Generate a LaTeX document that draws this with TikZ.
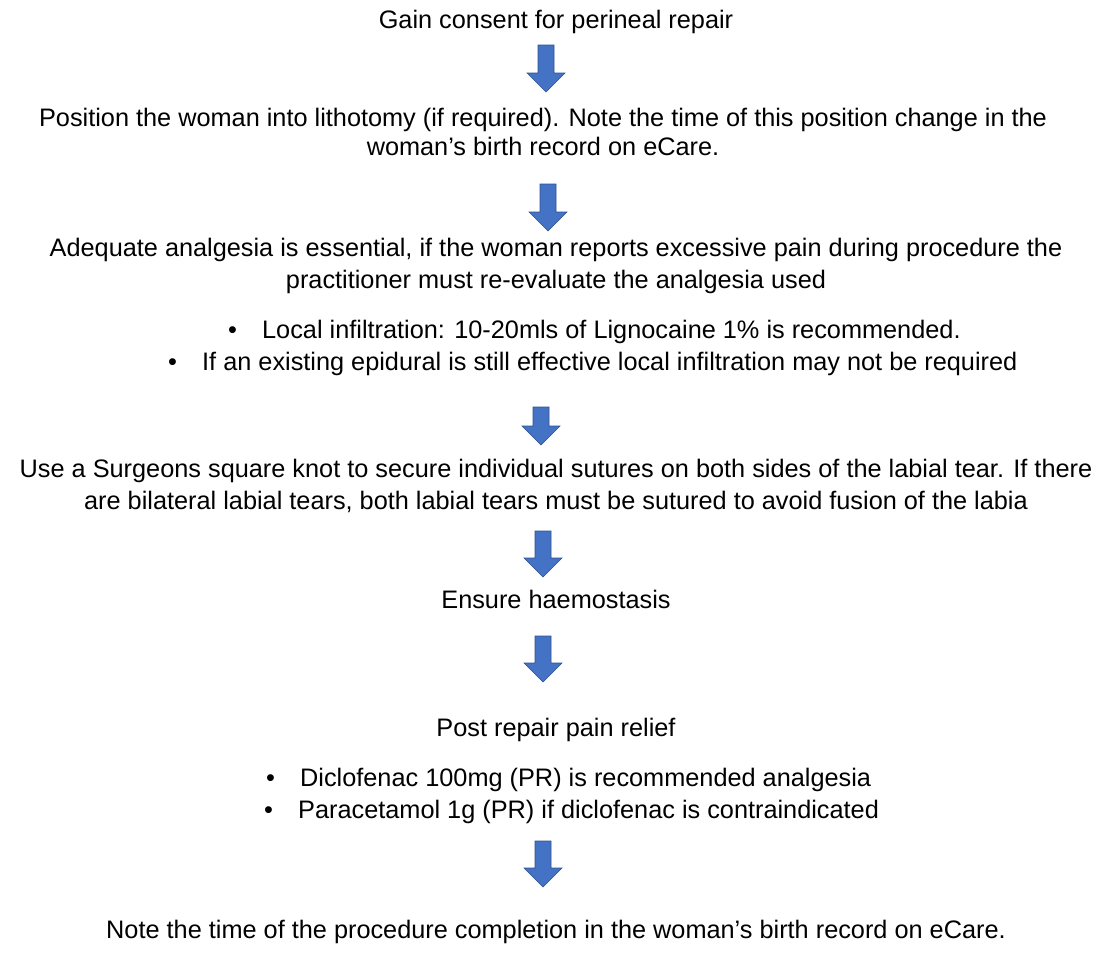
\documentclass[tikz,border=0pt]{standalone}
\usepackage{fontspec}
\setmainfont{Liberation Sans}
\definecolor{arrowblue}{HTML}{4472C4}
\definecolor{arrowedge}{HTML}{2F528F}
\tikzset{
	flowtext/.style={inner sep=0pt, anchor=base, align=center, font=\fontsize{25.3}{32}\selectfont},
	itemtext/.style={inner sep=0pt, anchor=base west, font=\fontsize{25.3}{32}\selectfont},
	pics/downarrow/.style={code={
		\filldraw[fill=arrowblue, draw=arrowedge, line width=0.6pt]
			(-8,0) -- (8,0) -- (8,#1) -- (19,#1) -- (0,#1+19) -- (-19,#1) -- (-8,#1) -- cycle;
	}},
}
\newcommand{\bulletmark}{\makebox[34pt][l]{\textbullet}}

\begin{document}
\begin{tikzpicture}[x=1pt,y=-1pt]
	\useasboundingbox (0,0) rectangle (1107,954);

	\node[flowtext] (consent) at (556,28) {Gain consent for perineal repair};
	\pic (arrowA) at (546,45) {downarrow=28};

	% base of a two-line node sits on its last line
	\node[flowtext, font=\fontsize{25.3}{29}\selectfont] (position) at (543,155)
		{Position the woman into lithotomy (if required). Note the time of this position change in the\\woman’s birth record on eCare.};
	\pic (arrowB) at (548,184) {downarrow=28};

	\node[flowtext] (analgesia) at (556,288)
		{Adequate analgesia is essential, if the woman reports excessive pain during procedure the\\practitioner must re-evaluate the analgesia used};
	\node[itemtext] (local) at (228,338) {\bulletmark Local infiltration: 10-20mls of Lignocaine 1\% is recommended.};
	\node[itemtext] (epidural) at (168,370) {\bulletmark If an existing epidural is still effective local infiltration may not be required};
	\pic (arrowC) at (541,407) {downarrow=19};

	\node[flowtext] (knot) at (556,509)
		{Use a Surgeons square knot to secure individual sutures on both sides of the labial tear. If there\\are bilateral labial tears, both labial tears must be sutured to avoid fusion of the labia};
	\pic (arrowD) at (543,531) {downarrow=27};

	\node[flowtext] (haemo) at (556,608) {Ensure haemostasis};
	\pic (arrowE) at (543,636) {downarrow=27};

	\node[flowtext] (relief) at (556,736) {Post repair pain relief};
	\node[itemtext] (diclo) at (266,786) {\bulletmark Diclofenac 100mg (PR) is recommended analgesia};
	\node[itemtext] (parac) at (264,818) {\bulletmark Paracetamol 1g (PR) if diclofenac is contraindicated};
	\pic (arrowF) at (543,841) {downarrow=27};

	\node[flowtext] (complete) at (556,938)
		{Note the time of the procedure completion in the woman’s birth record on eCare.};
\end{tikzpicture}
\end{document}
